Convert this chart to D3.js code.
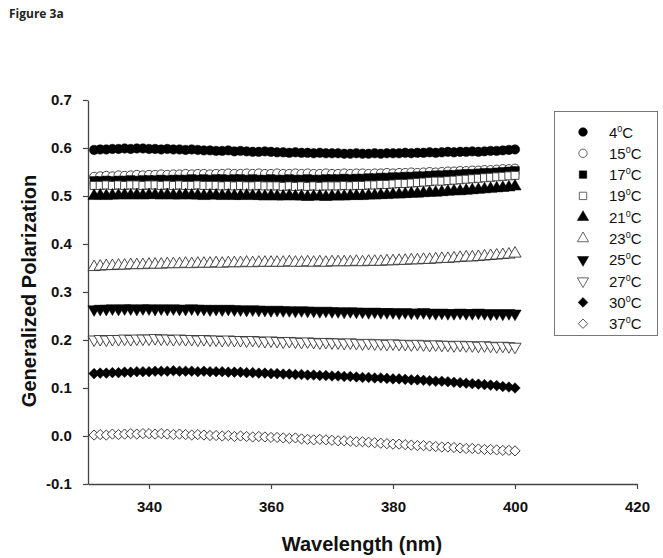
<!DOCTYPE html>
<html><head><meta charset="utf-8">
<script src="https://cdn.jsdelivr.net/npm/d3@7/dist/d3.min.js"></script>
<style>
html,body{margin:0;padding:0;background:#fff;}
svg{display:block;}
</style>
</head><body>
<svg id="chart" width="663" height="558"></svg>
<script>
const wavelengths = [331,332,333,334,335,336,337,338,339,340,341,342,343,344,345,346,347,348,349,350,351,352,353,354,355,356,357,358,359,360,361,362,363,364,365,366,367,368,369,370,371,372,373,374,375,376,377,378,379,380,381,382,383,384,385,386,387,388,389,390,391,392,393,394,395,396,397,398,399,400];

const seriesLabels = ["4","15","17","19","21","23","25","27","30","37"];

const gp4 = [0.596,0.597,0.597,0.598,0.598,0.599,0.598,0.599,0.599,0.598,
0.598,0.597,0.598,0.597,0.597,0.596,0.597,0.596,0.595,0.595,
0.594,0.594,0.595,0.593,0.594,0.593,0.592,0.592,0.593,0.592,
0.591,0.591,0.590,0.591,0.590,0.590,0.589,0.590,0.589,0.589,
0.589,0.588,0.588,0.589,0.588,0.588,0.589,0.588,0.589,0.589,
0.589,0.590,0.589,0.590,0.590,0.591,0.590,0.591,0.592,0.591,
0.592,0.592,0.593,0.592,0.593,0.594,0.594,0.595,0.596,0.597];

const gp15 = [0.540,0.541,0.542,0.541,0.543,0.542,0.543,0.544,0.543,0.544,
0.544,0.545,0.544,0.545,0.545,0.546,0.545,0.546,0.546,0.545,
0.546,0.546,0.547,0.546,0.546,0.547,0.546,0.547,0.546,0.546,
0.547,0.546,0.546,0.547,0.546,0.547,0.546,0.546,0.547,0.546,
0.546,0.547,0.546,0.547,0.547,0.546,0.547,0.547,0.548,0.547,
0.548,0.548,0.549,0.548,0.549,0.550,0.549,0.550,0.551,0.551,
0.552,0.552,0.553,0.553,0.554,0.554,0.555,0.556,0.556,0.557];

const gp17 = [0.532,0.532,0.533,0.532,0.533,0.533,0.534,0.533,0.534,0.534,
0.534,0.535,0.534,0.535,0.535,0.535,0.536,0.535,0.536,0.535,
0.536,0.536,0.535,0.536,0.536,0.535,0.536,0.535,0.535,0.536,
0.535,0.535,0.536,0.535,0.535,0.536,0.535,0.535,0.536,0.536,
0.536,0.537,0.536,0.537,0.537,0.538,0.538,0.539,0.539,0.540,
0.540,0.541,0.541,0.542,0.542,0.543,0.544,0.544,0.545,0.545,
0.546,0.547,0.547,0.548,0.549,0.549,0.550,0.551,0.552,0.553];

const gp19 = [0.522,0.522,0.523,0.522,0.523,0.522,0.523,0.523,0.522,0.523,
0.523,0.522,0.523,0.522,0.523,0.522,0.522,0.523,0.522,0.522,
0.522,0.521,0.522,0.521,0.522,0.521,0.521,0.522,0.521,0.521,
0.521,0.520,0.521,0.520,0.521,0.520,0.521,0.520,0.521,0.521,
0.521,0.522,0.521,0.522,0.522,0.523,0.523,0.524,0.524,0.525,
0.526,0.526,0.527,0.528,0.529,0.530,0.531,0.531,0.532,0.533,
0.534,0.535,0.536,0.537,0.538,0.539,0.540,0.541,0.542,0.543];

const gp21 = [0.500,0.501,0.500,0.501,0.501,0.502,0.501,0.502,0.501,0.502,
0.502,0.501,0.502,0.501,0.501,0.502,0.501,0.501,0.500,0.501,
0.501,0.500,0.501,0.500,0.500,0.501,0.500,0.500,0.499,0.500,
0.499,0.499,0.500,0.499,0.499,0.498,0.499,0.499,0.498,0.499,
0.499,0.499,0.500,0.500,0.500,0.501,0.501,0.502,0.502,0.503,
0.503,0.504,0.505,0.505,0.506,0.507,0.507,0.508,0.509,0.510,
0.510,0.511,0.512,0.513,0.514,0.515,0.516,0.517,0.518,0.520];

const gp23 = [0.352,0.353,0.354,0.354,0.355,0.355,0.356,0.356,0.356,0.357,
0.357,0.357,0.358,0.358,0.358,0.359,0.358,0.359,0.359,0.359,
0.360,0.359,0.360,0.360,0.360,0.361,0.360,0.361,0.361,0.361,
0.361,0.361,0.362,0.361,0.361,0.362,0.361,0.362,0.361,0.362,
0.362,0.362,0.362,0.363,0.362,0.363,0.363,0.363,0.364,0.364,
0.365,0.365,0.366,0.366,0.367,0.367,0.368,0.369,0.369,0.370,
0.371,0.372,0.372,0.373,0.374,0.375,0.376,0.377,0.378,0.380];

const gp25 = [0.264,0.265,0.265,0.266,0.265,0.266,0.266,0.265,0.266,0.266,
0.265,0.266,0.265,0.266,0.265,0.265,0.266,0.265,0.265,0.264,
0.265,0.264,0.265,0.264,0.264,0.263,0.264,0.263,0.263,0.262,
0.263,0.262,0.262,0.261,0.262,0.261,0.261,0.260,0.261,0.260,
0.260,0.259,0.260,0.259,0.259,0.258,0.259,0.258,0.258,0.258,
0.257,0.258,0.257,0.257,0.258,0.257,0.256,0.257,0.256,0.256,
0.257,0.256,0.256,0.257,0.256,0.255,0.256,0.255,0.256,0.255];

const gp27 = [0.201,0.202,0.201,0.202,0.202,0.203,0.202,0.203,0.203,0.203,
0.204,0.203,0.203,0.202,0.203,0.202,0.202,0.201,0.202,0.201,
0.201,0.200,0.201,0.200,0.200,0.199,0.200,0.199,0.198,0.199,
0.198,0.197,0.198,0.197,0.196,0.197,0.196,0.195,0.196,0.195,
0.195,0.194,0.195,0.194,0.193,0.194,0.193,0.193,0.192,0.193,
0.192,0.192,0.191,0.192,0.191,0.190,0.191,0.190,0.190,0.189,
0.190,0.189,0.189,0.188,0.189,0.188,0.187,0.188,0.187,0.186];

const gp30 = [0.130,0.131,0.131,0.132,0.132,0.133,0.133,0.134,0.134,0.134,
0.135,0.135,0.135,0.136,0.135,0.135,0.135,0.134,0.135,0.134,
0.134,0.134,0.133,0.133,0.133,0.132,0.132,0.131,0.131,0.130,
0.130,0.129,0.129,0.128,0.128,0.127,0.127,0.126,0.126,0.125,
0.125,0.124,0.124,0.123,0.122,0.122,0.121,0.121,0.120,0.119,
0.119,0.118,0.117,0.117,0.116,0.115,0.114,0.114,0.113,0.112,
0.111,0.110,0.109,0.108,0.107,0.106,0.105,0.103,0.102,0.100];

const gp37 = [0.002,0.003,0.002,0.004,0.003,0.004,0.005,0.004,0.005,0.005,
0.004,0.005,0.004,0.003,0.004,0.003,0.002,0.003,0.002,0.001,
0.001,0.000,0.001,-0.001,0.000,-0.001,-0.002,-0.001,-0.002,-0.003,
-0.003,-0.004,-0.005,-0.004,-0.006,-0.007,-0.008,-0.007,-0.008,-0.009,
-0.010,-0.010,-0.011,-0.012,-0.012,-0.013,-0.014,-0.015,-0.016,-0.017,
-0.017,-0.018,-0.019,-0.020,-0.020,-0.021,-0.022,-0.023,-0.023,-0.024,
-0.025,-0.026,-0.026,-0.027,-0.028,-0.028,-0.029,-0.030,-0.030,-0.031];

const xTicks = [340,360,380,400,420];
const yTicks = [-0.1,0.0,0.1,0.2,0.3,0.4,0.5,0.6,0.7];

const seriesValues = [gp4,gp15,gp17,gp19,gp21,gp23,gp25,gp27,gp30,gp37];

const markerStyles = [
  {type:d3.symbolCircle, size:70, rot:0, filled:true},
  {type:d3.symbolCircle, size:64, rot:0, filled:false},
  {type:d3.symbolSquare, size:66, rot:0, filled:true},
  {type:d3.symbolSquare, size:64, rot:0, filled:false},
  {type:d3.symbolTriangle, size:66, rot:0, filled:true},
  {type:d3.symbolTriangle, size:64, rot:0, filled:false},
  {type:d3.symbolTriangle, size:66, rot:180, filled:true},
  {type:d3.symbolTriangle, size:64, rot:180, filled:false},
  {type:d3.symbolSquare, size:56, rot:45, filled:true},
  {type:d3.symbolSquare, size:52, rot:45, filled:false}
];

const svg = d3.select("#chart");
const FONT = "'Liberation Sans', Arial, sans-serif";

const x = d3.scaleLinear().domain([330,420]).range([88,637]);
const y = d3.scaleLinear().domain([-0.1,0.7]).range([484,100]);

svg.append("text").attr("x",9).attr("y",18)
  .attr("font-family","'Open Sans', 'Liberation Sans', sans-serif")
  .attr("font-weight","bold").attr("font-size",12).attr("fill","#222")
  .text("Figure 3a");

const xAxis = svg.append("g").attr("transform","translate(0,484)")
  .call(d3.axisBottom(x).tickValues(xTicks).tickSize(5).tickSizeOuter(0).tickFormat(d3.format("d")));
const yAxis = svg.append("g").attr("transform","translate(88,0)")
  .call(d3.axisLeft(y).tickValues(yTicks).tickSize(5).tickSizeOuter(0).tickFormat(d=>d3.format(".1f")(d).replace("−","-")));

[xAxis,yAxis].forEach(g=>{
  g.select(".domain").attr("stroke","#444").attr("stroke-width",1.3);
  g.selectAll(".tick line").attr("stroke","#444").attr("stroke-width",1.2);
  g.selectAll(".tick text").attr("font-family",FONT).attr("font-weight","bold")
    .attr("font-size",15).attr("fill","#111");
});
xAxis.selectAll(".tick text").attr("dy","1.3em");
yAxis.selectAll(".tick text").attr("dx","-0.55em");

svg.append("text").attr("x",362).attr("y",551).attr("text-anchor","middle")
  .attr("font-family",FONT).attr("font-weight","bold").attr("font-size",20).attr("fill","#111")
  .text("Wavelength (nm)");
svg.append("text").attr("transform","translate(36,291) rotate(-90)").attr("text-anchor","middle")
  .attr("font-family",FONT).attr("font-weight","bold").attr("font-size",20).attr("fill","#111")
  .text("Generalized Polarization");

const plot = svg.append("g");
seriesValues.forEach((vals,i)=>{
  const st = markerStyles[i];
  const sym = d3.symbol().type(st.type).size(st.size);
  plot.append("g").selectAll("path").data(vals).join("path")
    .attr("d",sym())
    .attr("transform",(d,j)=>`translate(${x(wavelengths[j])},${y(d)}) rotate(${st.rot})`)
    .attr("fill",st.filled?"#000":"#fff")
    .attr("stroke",st.filled?"#000":"#333")
    .attr("stroke-width",st.filled?0.5:0.9);
});

const lg = svg.append("g");
lg.append("rect").attr("x",554.5).attr("y",111.5).attr("width",103).attr("height",224)
  .attr("fill","#fff").attr("stroke","#777").attr("stroke-width",1);
seriesLabels.forEach((lab,i)=>{
  const st = markerStyles[i];
  const cy = 132 + i*21.3;
  const sym = d3.symbol().type(st.type).size(st.size*0.85);
  lg.append("path").attr("d",sym())
    .attr("transform",`translate(583,${cy}) rotate(${st.rot})`)
    .attr("fill",st.filled?"#000":"#fff")
    .attr("stroke",st.filled?"#000":"#555")
    .attr("stroke-width",st.filled?0.5:0.9);
  const t = lg.append("text").attr("x",609).attr("y",cy+5.5)
    .attr("font-family",FONT).attr("font-size",15).attr("fill","#111");
  t.append("tspan").text(lab);
  t.append("tspan").attr("font-size",9).attr("dy",-6).text("0");
  t.append("tspan").attr("dy",6).text("C");
});
</script>
</body></html>
